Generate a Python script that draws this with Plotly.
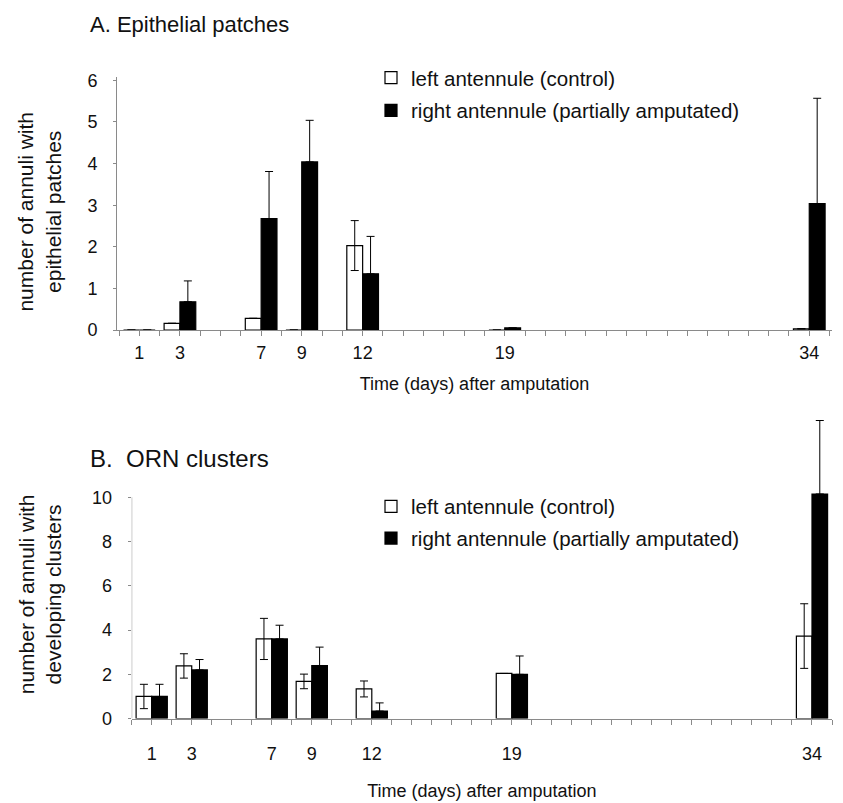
import plotly.graph_objects as go

# ---------------- data ----------------
days = [1, 3, 7, 9, 12, 19, 34]
tick_days = list(range(0, 36))
label_days = [1, 3, 7, 9, 12, 19, 34]

# Panel A: epithelial patches
a_left = [0, 0.16, 0.28, 0, 2.03, 0, 0.03]
a_left_err = [None, None, None, None, 0.60, None, None]
a_right = [0, 0.68, 2.68, 4.04, 1.35, 0.05, 3.04]
a_right_err = [None, 0.50, 1.13, 1.00, 0.90, None, 2.53]

# Panel B: ORN clusters
b_left = [1.0, 2.38, 3.6, 1.68, 1.34, 2.04, 3.73]
b_left_err = [0.55, 0.55, 0.93, 0.33, 0.36, None, 1.46]
b_right = [1.0, 2.2, 3.6, 2.4, 0.34, 2.0, 10.15]
b_right_err = [0.55, 0.47, 0.62, 0.83, 0.37, 0.83, 3.32]

left_name = "left antennule (control)"
right_name = "right antennule (partially amputated)"
title_a = "A. Epithelial patches"
title_b = "B.  ORN clusters"
ytitle_a = "number of annuli with<br>epithelial patches"
ytitle_b = "number of annuli with<br>developing clusters"
xtitle = "Time (days) after amputation"

# ---------------- styling ----------------
W, H = 843, 803
FONT = "Liberation Sans, Arial, sans-serif"
BW = 0.78
ax_col = "#8a8a8a"
txt = "#111"


def zeros_like(v):
    return [0 if e is not None else None for e in v]


fig = go.Figure()

for (xa, ya, lg, L, Le, R, Re) in [
    ("x", "y", "legend", a_left, a_left_err, a_right, a_right_err),
    ("x2", "y2", "legend2", b_left, b_left_err, b_right, b_right_err),
]:
    fig.add_trace(go.Bar(
        x=days, y=L, name=left_name, xaxis=xa, yaxis=ya, legend=lg,
        legendgroup="l", offset=-BW, width=BW,
        marker=dict(color="white", line=dict(color="black", width=1.2)),
        error_y=dict(type="data", array=Le, symmetric=True,
                     color="black", thickness=1, width=4),
    ))
    fig.add_trace(go.Bar(
        x=days, y=R, name=right_name, xaxis=xa, yaxis=ya, legend=lg,
        legendgroup="r", offset=0, width=BW,
        marker=dict(color="black", line=dict(color="black", width=1.2)),
        error_y=dict(type="data", array=Re, arrayminus=zeros_like(Re),
                     symmetric=False, color="black", thickness=1, width=4),
    ))

ticktext = [str(d) if d in label_days else "" for d in tick_days]


def px_x(p):
    return p / W


def px_y(p):
    return 1 - p / H


xcommon = dict(
    tickmode="array", tickvals=tick_days, ticktext=ticktext,
    ticks="outside", ticklen=5, tickcolor=ax_col, tickwidth=1,
    showline=True, linecolor=ax_col, linewidth=1,
    showgrid=False, zeroline=False,
    tickfont=dict(family=FONT, size=18, color=txt),
)
ycommon = dict(
    ticks="outside", ticklen=3, tickcolor=ax_col,
    showgrid=False, zeroline=False,
    tickfont=dict(family=FONT, size=18, color=txt),
    ticklabelstandoff=12,
)
xtitle_font = dict(family=FONT, size=18, color=txt)
ytitle_font = dict(family=FONT, size=21, color=txt)
leg_font = dict(family=FONT, size=20.5, color=txt)

fig.update_layout(
    width=W, height=H,
    margin=dict(l=0, r=0, t=0, b=0),
    paper_bgcolor="white", plot_bgcolor="white",
    barmode="overlay",
    font=dict(family=FONT, size=18, color=txt),
    xaxis=dict(domain=[px_x(117), px_x(832)], range=[-0.1, 35.12],
               anchor="y", ticklabelstandoff=1,
               title=dict(text=xtitle, standoff=15, font=xtitle_font),
               **xcommon),
    yaxis=dict(domain=[px_y(330), px_y(72)], range=[0, 6.07],
               anchor="x", tickvals=[0, 1, 2, 3, 4, 5, 6],
               showline=True, linecolor=ax_col, linewidth=1,
               **ycommon),
    xaxis2=dict(domain=[px_x(131.7), px_x(832)], range=[0, 35.0],
                anchor="y2", ticklabelstandoff=14,
                title=dict(text=xtitle, standoff=21, font=xtitle_font),
                **xcommon),
    yaxis2=dict(domain=[px_y(727), px_y(415)], range=[0, 13.8],
                anchor="x2", tickvals=[0, 2, 4, 6, 8, 10],
                showline=False,
                **ycommon),
    legend=dict(x=px_x(371), y=px_y(52), xanchor="left", yanchor="top",
                bgcolor="rgba(0,0,0,0)", font=leg_font,
                traceorder="grouped", tracegroupgap=3, itemwidth=30),
    legend2=dict(x=px_x(371), y=px_y(490), xanchor="left", yanchor="top",
                 bgcolor="rgba(0,0,0,0)", font=leg_font,
                 traceorder="grouped", tracegroupgap=2, itemwidth=30),
    annotations=[
        dict(text=title_a, x=px_x(88), y=px_y(18), xref="paper", yref="paper",
             xanchor="left", yanchor="middle", showarrow=False,
             font=dict(family=FONT, size=22, color=txt)),
        dict(text=title_b, x=px_x(88), y=px_y(461), xref="paper", yref="paper",
             xanchor="left", yanchor="middle", showarrow=False,
             font=dict(family=FONT, size=24, color=txt)),
        dict(text=ytitle_a, x=px_x(39), y=px_y(209), xref="paper", yref="paper",
             xanchor="center", yanchor="middle", showarrow=False, textangle=-90,
             font=ytitle_font),
        dict(text=ytitle_b, x=px_x(40), y=px_y(600), xref="paper", yref="paper",
             xanchor="center", yanchor="middle", showarrow=False, textangle=-90,
             font=ytitle_font),
    ],
    shapes=[
        dict(type="line", xref="x2", yref="y2", x0=0, x1=0, y0=0, y1=10,
             line=dict(color=ax_col, width=1)),
    ],
)

fig.write_html(
    "out.html",
    config={"displayModeBar": False},
    post_script="document.body.style.margin='0';document.body.style.overflow='hidden';",
)
